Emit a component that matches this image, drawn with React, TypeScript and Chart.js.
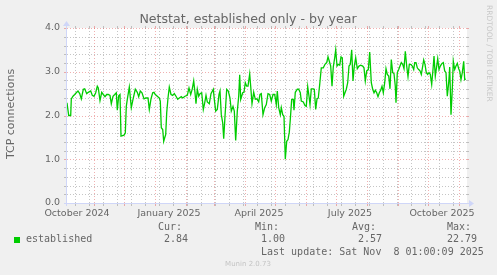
import React, { useEffect, useRef } from 'react';
import { Chart, registerables } from 'chart.js';

Chart.register(...registerables);

// x = days since 5 Oct 2024 (0) up to 8 Nov 2025 (399)
const days = [
  0, 1.7, 3.7, 4.3, 6, 7.7, 9.7, 11, 12.7, 14.3, 16.3, 17.7, 19.7, 21.3, 23.7, 25.3, 27, 28.7, 30.3, 31.3,
  33, 34.7, 36.3, 38, 39.7, 41.3, 43, 44.3, 46, 47.7, 49.3, 50.3, 51.7, 53, 54, 57, 58.3, 59.3, 60.3, 62.3,
  64.3, 66, 68.3, 70.3, 71.7, 73.3, 75, 77, 79, 81, 82.3, 84, 85.7, 87, 88.3, 90.3, 92.3, 93.3, 94.3, 95.7,
  96.7, 97.7, 98.7, 99.7, 101, 102.3, 104, 105.7, 107.3, 109, 110.7, 112.3, 114.3, 115.7, 118, 120.3, 122, 123.7, 125.3, 126.7,
  128, 129, 130.3, 131.7, 133, 134.7, 136.3, 137.7, 139, 140.3, 142.3, 144, 146.3, 147.3, 148.7, 150.3, 152, 153, 154.3, 155.7,
  156.7, 158, 159.7, 161.3, 163, 164.3, 166, 167.3, 168.7, 170.3, 171.7, 172.7, 173.7, 175.7, 177, 178.3, 179.7, 181, 182.7, 183.7,
  185, 186.7, 188.3, 190, 191.7, 193, 194.3, 196, 197.7, 199.3, 201, 202.7, 204.3, 206, 207.7, 209.3, 210.3, 211.7, 213.3, 214.3,
  215.7, 217, 218.3, 219.7, 221, 222.3, 223.3, 224.7, 226.3, 227, 228.3, 230.3, 231.7, 233.3, 234.3, 236.3, 238, 239.3, 240.7, 242,
  243, 244.3, 245.7, 247.3, 248.7, 250, 251.3, 252.7, 254.3, 256.3, 258, 259.7, 261, 262.3, 263.7, 265, 266.3, 267.7, 268.7, 270,
  271.3, 272.7, 274, 275.3, 276.7, 278, 279.3, 280.7, 282, 283.3, 284.7, 286, 287.3, 288.7, 290.3, 292, 293.7, 295.7, 297, 298.3,
  299.7, 301.3, 302.7, 304.3, 305.7, 307, 308.3, 309.7, 311, 312.3, 313.7, 315, 316.3, 317.7, 319, 320.3, 321.7, 323, 324.3, 325.7,
  327, 328.3, 329, 330.3, 331.7, 333, 334.3, 335.7, 337, 338.3, 339.7, 341, 342.3, 343.7, 345.3, 346.7, 347.7, 349, 350.3, 351.7,
  353, 354.3, 355.7, 356.7, 358, 359.3, 360.7, 362, 363.3, 364.7, 366, 367, 368.3, 369.7, 370.7, 372, 373.3, 375, 376.3, 377.7,
  379, 380.3, 381.7, 382.7, 384, 385.3, 386.3, 387.7, 389, 390.3, 391.7, 392.7, 394, 395.3, 396.7, 397.7, 398.7,
];

const established = [
  2.29, 2.0, 2.0, 2.38, 2.44, 2.48, 2.53, 2.56, 2.5, 2.38, 2.6, 2.61, 2.5, 2.53, 2.56, 2.46, 2.44, 2.52, 2.67, 2.63,
  2.34, 2.53, 2.48, 2.43, 2.48, 2.48, 2.46, 2.27, 2.44, 2.48, 2.52, 2.12, 2.45, 2.48, 1.53, 1.55, 1.6, 2.21, 2.37, 2.65,
  2.18, 2.37, 2.6, 2.53, 2.43, 2.56, 2.52, 2.38, 2.4, 2.4, 2.14, 2.38, 2.52, 2.53, 2.48, 2.44, 2.4, 2.33, 1.72, 1.68,
  1.41, 1.49, 1.56, 2.06, 2.4, 2.65, 2.48, 2.46, 2.5, 2.44, 2.37, 2.4, 2.43, 2.4, 2.44, 2.46, 2.63, 2.48, 2.61, 2.79,
  2.52, 2.27, 2.6, 2.44, 2.5, 2.52, 2.14, 2.29, 2.46, 2.31, 2.27, 2.5, 2.6, 2.37, 2.1, 2.14, 2.48, 2.56, 2.02, 1.83,
  1.47, 1.98, 2.6, 2.56, 2.4, 2.1, 2.21, 2.1, 1.43, 2.1, 2.44, 2.93, 2.37, 2.52, 2.53, 2.75, 2.67, 2.67, 2.95, 2.67,
  2.27, 2.53, 2.37, 2.38, 2.31, 2.48, 2.5, 2.02, 2.18, 2.25, 2.5, 2.48, 2.33, 2.48, 2.48, 2.25, 2.56, 2.18, 2.02, 2.18,
  2.02, 1.98, 1.0, 1.41, 1.45, 1.62, 1.91, 2.37, 2.37, 2.12, 2.53, 2.6, 2.6, 2.52, 2.33, 2.31, 2.23, 2.21, 2.66, 2.44,
  2.25, 2.61, 2.61, 2.6, 2.14, 2.38, 2.4, 2.71, 3.09, 3.09, 3.17, 3.21, 3.34, 3.24, 3.13, 2.67, 3.11, 3.32, 3.5, 3.13,
  3.17, 3.15, 3.34, 3.32, 2.44, 2.52, 2.6, 2.75, 3.13, 3.17, 3.5, 2.79, 3.13, 3.32, 3.07, 3.13, 3.15, 3.13, 3.09, 2.79,
  3.02, 3.05, 3.45, 2.75, 2.6, 2.52, 2.58, 2.52, 2.43, 2.52, 2.58, 2.67, 2.52, 2.75, 3.07, 2.94, 2.9, 2.61, 3.28, 2.98,
  2.96, 2.67, 2.29, 2.98, 3.05, 3.13, 3.21, 3.17, 3.07, 3.47, 3.13, 2.89, 3.17, 3.17, 3.13, 3.05, 3.21, 3.21, 3.09, 3.05,
  3.02, 2.94, 3.13, 3.27, 3.17, 2.98, 2.94, 2.98, 2.94, 2.71, 3.05, 3.36, 2.9, 3.13, 3.3, 3.05, 3.13, 3.19, 3.21, 3.02,
  2.98, 2.44, 2.75, 3.11, 2.02, 2.6, 3.24, 3.05, 3.13, 3.19, 3.07, 3.02, 2.82, 2.98, 3.24, 2.82, 2.84,
];

const monthStartDays = [27, 57, 88, 119, 147, 178, 208, 239, 269, 300, 331, 361, 392];
const minorGridDays = [8, 22, 36, 50, 64, 78, 92, 106, 120, 134, 148, 162, 176, 190, 204, 218, 232, 246, 260, 274, 288, 302, 316, 330, 344, 358, 372, 386];
const xLabelDays = [10, 102, 192, 283, 375];
const xLabelTexts = ['October 2024', 'January 2025', 'April 2025', 'July 2025', 'October 2025'];
const yTickValues = [0, 1, 2, 3, 4];
const yMinorStep = 0.2;

const titleText = 'Netstat, established only - by year';
const yAxisTitle = 'TCP connections';
const seriesName = 'established';
const legendHeads = ['Cur:', 'Min:', 'Avg:', 'Max:'];
const legendValues = ['2.84', '1.00', '2.57', '22.79'];
const lastUpdate = 'Last update: Sat Nov  8 01:00:09 2025';
const watermark = 'RRDTOOL / TOBI OETIKER';
const footer = 'Munin 2.0.73';

const FONT = 'DejaVu Sans';
const MONO = 'DejaVu Sans Mono';
const TEXT = '#666666';
const GREEN = '#00cc00';
const AXIS = '#cfd6f8';
const MGRID = 'rgba(222,80,80,0.45)';
const GRID = 'rgba(150,150,150,0.55)';

const muninPlugin = {
  id: 'munin',
  beforeDraw(chart: any) {
    const { ctx, chartArea: a } = chart;
    ctx.save();
    ctx.fillStyle = '#f0f0f0';
    ctx.fillRect(0, 0, chart.width, chart.height);
    ctx.fillStyle = '#ffffff';
    ctx.fillRect(a.left, a.top, a.right - a.left, a.bottom - a.top);
    ctx.restore();
  },
  beforeDatasetsDraw(chart: any) {
    const { ctx, chartArea: a, scales } = chart;
    const xs = scales.x;
    const ys = scales.y;
    ctx.save();
    ctx.lineWidth = 1;
    const hline = (v: number, color: string) => {
      const y = Math.round(ys.getPixelForValue(v)) + 0.5;
      ctx.strokeStyle = color;
      ctx.setLineDash([1, 2]);
      ctx.beginPath();
      ctx.moveTo(a.left, y);
      ctx.lineTo(a.right, y);
      ctx.stroke();
      ctx.setLineDash([]);
      ctx.beginPath();
      ctx.moveTo(a.left - 3, y);
      ctx.lineTo(a.left, y);
      ctx.moveTo(a.right, y);
      ctx.lineTo(a.right + 2, y);
      ctx.stroke();
    };
    const vline = (d: number, color: string) => {
      const x = Math.round(xs.getPixelForValue(d)) + 0.5;
      ctx.strokeStyle = color;
      ctx.setLineDash([1, 2]);
      ctx.beginPath();
      ctx.moveTo(x, a.top);
      ctx.lineTo(x, a.bottom);
      ctx.stroke();
      ctx.setLineDash([]);
      ctx.beginPath();
      ctx.moveTo(x, a.bottom);
      ctx.lineTo(x, a.bottom + 3);
      ctx.moveTo(x, a.top - 2);
      ctx.lineTo(x, a.top);
      ctx.stroke();
    };
    const ymax = yTickValues[yTickValues.length - 1];
    for (let i = 1; i * yMinorStep < ymax; i++) {
      const v = i * yMinorStep;
      if (Math.abs(v - Math.round(v)) > 1e-6) hline(v, GRID);
    }
    minorGridDays.forEach((d) => {
      if (!monthStartDays.some((m) => Math.abs(m - d) < 1)) vline(d, GRID);
    });
    yTickValues.forEach((v) => hline(v, MGRID));
    monthStartDays.forEach((d) => vline(d, MGRID));
    ctx.restore();
  },
  afterDatasetsDraw(chart: any) {
    const { ctx, chartArea: a } = chart;
    ctx.save();
    ctx.strokeStyle = AXIS;
    ctx.fillStyle = AXIS;
    ctx.lineWidth = 1;
    const yb = Math.round(a.bottom) + 0.5;
    const xl = Math.round(a.left) - 0.5;
    ctx.beginPath();
    ctx.moveTo(a.left - 3, yb);
    ctx.lineTo(a.right + 3, yb);
    ctx.moveTo(xl, a.bottom + 3);
    ctx.lineTo(xl, a.top - 3);
    ctx.stroke();
    ctx.beginPath();
    ctx.moveTo(a.right + 2, yb - 3.5);
    ctx.lineTo(a.right + 7, yb);
    ctx.lineTo(a.right + 2, yb + 3.5);
    ctx.closePath();
    ctx.fill();
    ctx.beginPath();
    ctx.moveTo(xl - 3.5, a.top - 2);
    ctx.lineTo(xl, a.top - 7);
    ctx.lineTo(xl + 3.5, a.top - 2);
    ctx.closePath();
    ctx.fill();
    ctx.restore();
  },
  afterDraw(chart: any) {
    const { ctx } = chart;
    ctx.save();
    ctx.fillStyle = TEXT;
    ctx.textBaseline = 'middle';
    ctx.font = `12.6px "${FONT}"`;
    ctx.textAlign = 'center';
    ctx.fillText(titleText, 248, 19.5);
    ctx.save();
    ctx.translate(11.5, 114);
    ctx.rotate(-Math.PI / 2);
    ctx.font = `11px "${FONT}"`;
    ctx.fillText(yAxisTitle, 0, 0);
    ctx.restore();
    ctx.save();
    ctx.translate(488.5, 5);
    ctx.rotate(Math.PI / 2);
    ctx.font = `7.5px "${FONT}"`;
    ctx.textAlign = 'left';
    ctx.fillStyle = '#c8c8c8';
    ctx.fillText(watermark, 0, 0);
    ctx.restore();
    ctx.font = `10px "${MONO}"`;
    ctx.textAlign = 'left';
    const colX = [158, 255, 352, 447];
    const valX = [164, 261, 358, 447];
    legendHeads.forEach((t, i) => ctx.fillText(t, colX[i], 227));
    legendValues.forEach((t, i) => ctx.fillText(t, valX[i], 239.5));
    ctx.fillText(seriesName, 26, 239.5);
    ctx.fillText(lastUpdate, 261, 252);
    ctx.fillStyle = GREEN;
    ctx.fillRect(14, 237, 6, 6);
    ctx.font = `7px "${FONT}"`;
    ctx.textAlign = 'center';
    ctx.fillStyle = '#c4c4c4';
    ctx.fillText(footer, 248, 264);
    ctx.restore();
  },
};

export default function App() {
  const ref = useRef<HTMLCanvasElement | null>(null);
  useEffect(() => {
    document.body.style.margin = '0';
    const canvas = ref.current;
    if (!canvas) return;
    const points = days.map((d, i) => ({ x: d, y: established[i] }));
    const chart = new Chart(canvas, {
      type: 'line',
      data: {
        datasets: [
          {
            label: seriesName,
            data: points,
            borderColor: GREEN,
            borderWidth: 1.3,
            pointRadius: 0,
            tension: 0,
            fill: false,
          },
        ],
      },
      options: {
        animation: false,
        responsive: false,
        devicePixelRatio: 1,
        layout: { padding: { left: 0, right: 30, top: 28, bottom: 0 } },
        plugins: { legend: { display: false }, tooltip: { enabled: false }, title: { display: false } },
        scales: {
          x: {
            type: 'linear',
            min: 0,
            max: 400,
            grid: { display: false, drawTicks: false },
            border: { display: false },
            afterFit: (s: any) => {
              s.height = 72;
            },
            afterBuildTicks: (s: any) => {
              s.ticks = xLabelDays.map((v) => ({ value: v }));
            },
            ticks: {
              autoSkip: false,
              maxRotation: 0,
              minRotation: 0,
              padding: 5,
              color: TEXT,
              font: { family: FONT, size: 9.5 },
              callback: (v: any) => {
                const i = xLabelDays.indexOf(Number(v));
                return i >= 0 ? xLabelTexts[i] : '';
              },
            },
          },
          y: {
            min: 0,
            max: 4,
            grid: { display: false, drawTicks: false },
            border: { display: false },
            afterFit: (s: any) => {
              s.width = 67;
            },
            afterBuildTicks: (s: any) => {
              s.ticks = yTickValues.map((v) => ({ value: v }));
            },
            ticks: {
              padding: 7,
              color: TEXT,
              font: { family: FONT, size: 9.5 },
              callback: (v: any) => Number(v).toFixed(1),
            },
          },
        },
      },
      plugins: [muninPlugin],
    });
    return () => chart.destroy();
  }, []);
  return (
    <div style={{ position: 'absolute', left: 0, top: 0, width: 497, height: 275 }}>
      <canvas ref={ref} width={497} height={275} style={{ width: 497, height: 275, display: 'block' }} />
    </div>
  );
}
